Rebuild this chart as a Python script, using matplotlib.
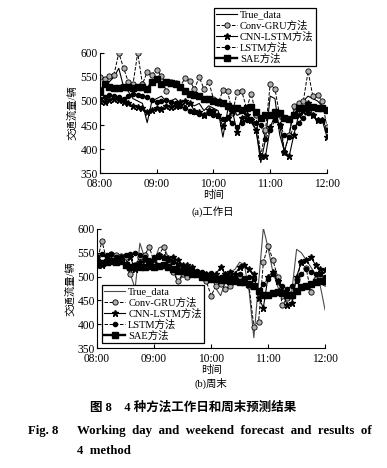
import numpy as np
import matplotlib
matplotlib.use("Agg")
import matplotlib.pyplot as plt

plt.rcParams['font.family'] = ['Liberation Serif', 'Noto Sans CJK SC']
plt.rcParams['axes.unicode_minus'] = False

# time axis: 5-minute samples from 08:00 to 12:00
minutes = np.arange(0, 241, 5)
tick_pos = [0, 60, 120, 180, 240]
tick_labels = ['08:00', '09:00', '10:00', '11:00', '12:00']
names = ['True_data', 'Conv-GRU方法', 'CNN-LSTM方法', 'LSTM方法', 'SAE方法']

# (a) working day
wd_true = [515, 530, 540, 550, 568, 530, 520, 505, 500, 495, 455, 500, 505, 510, 500, 500, 505,
           495, 490, 495, 490, 495, 480, 490, 485, 480, 425, 480, 490, 470, 475, 480, 455, 440,
           372, 420, 510, 505, 430, 395, 430, 480, 490, 500, 510, 505, 500, 490, 475]
wd_gru = [550, 545, 552, 555, 600, 569, 540, 535, 600, 535, 560, 555, 565, 552, 520, 540, 537,
          530, 548, 542, 525, 550, 525, 540, 505, 495, 522, 520, 475, 518, 520, 485, 515, 470,
          385, 440, 535, 525, 470, 395, 430, 490, 495, 500, 562, 510, 513, 499, 445]
wd_cnn = [500, 498, 502, 505, 502, 498, 495, 490, 488, 485, 478, 482, 485, 484, 490, 488, 490,
          498, 500, 495, 480, 478, 470, 482, 480, 470, 448, 465, 480, 435, 465, 470, 460, 440,
          385, 385, 445, 470, 450, 395, 385, 430, 470, 480, 495, 470, 460, 460, 425]
wd_lstm = [505, 508, 512, 510, 508, 505, 510, 515, 512, 510, 508, 502, 498, 500, 502, 497, 495,
           490, 485, 480, 478, 472, 470, 475, 470, 468, 462, 466, 455, 445, 455, 460, 462, 455,
           450, 420, 440, 460, 450, 430, 425, 445, 455, 465, 475, 470, 460, 460, 440]
wd_sae = [518, 535, 530, 528, 528, 530, 530, 528, 530, 530, 525, 540, 545, 535, 540, 538, 535,
          530, 520, 515, 512, 510, 505, 505, 500, 498, 495, 490, 485, 485, 482, 485, 488, 478,
          465, 470, 470, 478, 475, 465, 462, 470, 485, 485, 488, 487, 485, 485, 482]

# (b) weekend
we_true = [530, 545, 540, 530, 525, 535, 520, 505, 475, 570, 540, 520, 530, 560, 564, 540, 515,
           490, 500, 505, 510, 505, 508, 505, 505, 475, 460, 490, 510, 515, 530, 525, 470, 372,
           487, 602, 560, 510, 480, 452, 460, 470, 557, 550, 535, 520, 505, 480, 430]
we_gru = [530, 575, 535, 548, 545, 543, 540, 505, 525, 540, 545, 562, 530, 545, 562, 530, 510,
          490, 505, 500, 510, 505, 500, 490, 460, 480, 485, 475, 480, 490, 500, 495, 480, 395,
          405, 530, 565, 535, 500, 440, 455, 460, 495, 530, 518, 468, 495, 500, 487]
we_cnn = [525, 525, 540, 535, 530, 540, 525, 540, 515, 530, 535, 530, 535, 545, 540, 538, 540,
          535, 525, 525, 520, 510, 505, 505, 500, 505, 520, 505, 510, 505, 520, 525, 515, 505,
          455, 435, 500, 510, 490, 470, 440, 445, 500, 530, 535, 540, 525, 515, 513]
we_lstm = [540, 548, 545, 548, 540, 540, 545, 548, 550, 545, 540, 535, 540, 540, 538, 535, 530,
           525, 520, 515, 515, 512, 510, 505, 508, 500, 500, 505, 500, 500, 505, 498, 500, 495,
           470, 485, 495, 505, 490, 480, 475, 480, 490, 505, 515, 510, 505, 505, 500]
we_sae = [530, 528, 530, 532, 530, 532, 525, 520, 522, 520, 520, 522, 520, 522, 525, 520, 515,
          512, 512, 510, 505, 505, 500, 500, 495, 495, 492, 492, 490, 490, 488, 488, 485, 480,
          470, 462, 462, 465, 468, 465, 462, 462, 470, 478, 480, 485, 488, 490, 490]


def draw(ax, series, true_color):
    t, g, c, l, s = series
    ax.plot(minutes, t, color=true_color, lw=0.8, label=names[0])
    ax.plot(minutes, g, color='black', lw=0.7, ls='--', marker='o', ms=3.8,
            mfc='#b0b0b0', mec='black', mew=0.6, label=names[1])
    ax.plot(minutes, c, color='black', lw=0.8, marker='*', ms=4.8, label=names[2])
    ax.plot(minutes, l, color='black', lw=0.7, ls='--', marker='o', ms=3,
            mfc='black', mec='black', label=names[3])
    ax.plot(minutes, s, color='black', lw=1.7, marker='s', ms=3.8, label=names[4])
    ax.set_xlim(0, 240)
    ax.set_ylim(350, 600)
    ax.set_xticks(tick_pos)
    ax.set_xticklabels(tick_labels)
    ax.set_yticks([350, 400, 450, 500, 550, 600])
    ax.spines['top'].set_visible(False)
    ax.spines['right'].set_visible(False)
    ax.tick_params(direction='in', length=3, labelsize=8.3, pad=1.5)
    ax.tick_params(axis='x', pad=3.5)
    ax.set_ylabel('交通流量/辆', fontsize=7.5, labelpad=2)
    ax.set_xlabel('时间', fontsize=7.5, labelpad=0)


def add_legend(ax, x, y):
    leg = ax.legend(loc='upper left', bbox_to_anchor=(x, y), bbox_transform=fig.transFigure,
                    fontsize=7.5, frameon=True, fancybox=False, edgecolor='black', framealpha=1,
                    borderpad=0.2, labelspacing=0.08, handlelength=2.0, handletextpad=0.3,
                    borderaxespad=0)
    leg.get_frame().set_linewidth(0.9)


fig = plt.figure(figsize=(3.87, 4.68), dpi=100)

ax1 = fig.add_axes([0.258, 0.630, 0.587, 0.257])
draw(ax1, [wd_true, wd_gru, wd_cnn, wd_lstm, wd_sae], 'black')
add_legend(ax1, 0.553, 0.983)
fig.text(0.55, 0.549, '(a)工作日', ha='center', va='center', fontsize=7.5)

ax2 = fig.add_axes([0.251, 0.256, 0.589, 0.255])
draw(ax2, [we_true, we_gru, we_cnn, we_lstm, we_sae], '#4a4a4a')
add_legend(ax2, 0.264, 0.391)
fig.text(0.545, 0.181, '(b)周末', ha='center', va='center', fontsize=7.5)

fig.text(0.5, 0.122, '图 8    4 种方法工作日和周末预测结果', ha='center', fontsize=9,
         fontweight='bold')
fig.text(0.072, 0.073, 'Fig. 8', ha='left', fontsize=9.2, fontweight='bold')
fig.text(0.198, 0.073, 'Working  day  and  weekend  forecast  and  results  of',
         ha='left', fontsize=9.3, fontweight='bold')
fig.text(0.198, 0.030, '4  method', ha='left', fontsize=9.2, fontweight='bold')

fig.savefig('out.png', dpi=100)
